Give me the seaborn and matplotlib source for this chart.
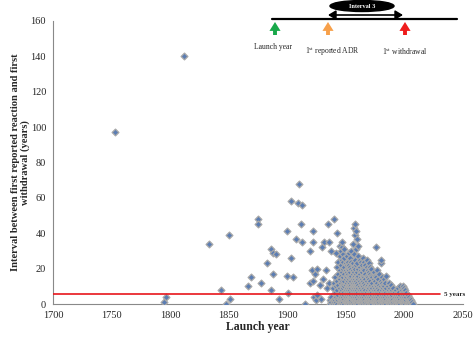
import numpy as np
import pandas as pd
import matplotlib
matplotlib.use("Agg")
import matplotlib.pyplot as plt
from matplotlib.patches import Ellipse, FancyArrowPatch
import seaborn as sns

# ---- data ----
early_years = [1753, 1795, 1797, 1812, 1833, 1844, 1848, 1850, 1851, 1867, 1869, 1875, 1875,
               1878, 1883, 1886, 1886, 1888, 1888, 1891, 1893, 1900, 1900, 1901, 1903, 1903,
               1905, 1908, 1909, 1910, 1912, 1913, 1913, 1915, 1920, 1920, 1921, 1922, 1922,
               1922, 1923, 1924, 1925, 1926, 1926, 1928, 1929, 1930, 1931, 1932, 1933, 1934,
               1935, 1936, 1936, 1938, 1940]
early_intervals = [97, 1, 4, 140, 34, 8, 0, 39, 3, 10, 15, 48, 45,
                   12, 23, 31, 8, 29, 17, 28, 3, 41, 16, 6, 58, 26,
                   15, 37, 57, 68, 45, 56, 35, 0, 30, 12, 19, 41, 35,
                   13, 4, 17, 2, 20, 5, 11, 3, 32, 14, 35, 19, 9,
                   45, 35, 12, 30, 48]

cluster_years = list(range(1937, 2009))
cluster_intervals = [
    [2, 0], [1, 4], [2, 0, 9], [3, 1, 12], [0, 2, 6, 15], [1, 4, 10, 29],
    [0, 3, 8, 13, 21, 40], [2, 5, 11, 17, 24], [0, 1, 3, 6, 9, 14, 19, 27, 33],
    [1, 2, 4, 7, 12, 16, 22, 30], [0, 2, 5, 8, 10, 13, 18, 25, 32, 35],
    [1, 3, 4, 6, 9, 11, 15, 20, 24, 28], [0, 2, 3, 5, 7, 10, 13, 17, 21, 26, 31],
    [1, 2, 4, 6, 8, 11, 14, 16, 19, 23], [0, 1, 3, 5, 7, 9, 12, 15, 18, 22, 27],
    [1, 2, 4, 6, 8, 10, 13, 17, 20, 24], [0, 2, 3, 5, 7, 9, 11, 14, 16, 19, 22, 29],
    [1, 3, 4, 6, 8, 10, 12, 15, 18, 21, 26], [0, 1, 2, 4, 5, 7, 9, 11, 13, 16, 20, 24, 30],
    [1, 3, 4, 6, 8, 10, 12, 14, 17, 19, 23, 34], [0, 2, 3, 5, 7, 9, 11, 13, 15, 18, 21, 28, 43],
    [1, 2, 4, 6, 8, 10, 12, 14, 16, 20, 25, 39, 45], [0, 1, 3, 5, 7, 9, 11, 13, 17, 22, 31, 41],
    [1, 2, 4, 6, 8, 10, 12, 15, 18, 23, 37], [0, 2, 3, 5, 7, 9, 11, 14, 16, 20, 27, 33],
    [1, 2, 4, 6, 8, 10, 13, 17, 21, 25], [0, 1, 3, 5, 7, 9, 12, 15, 19, 24],
    [1, 2, 4, 6, 8, 11, 14, 18, 22], [0, 2, 3, 5, 7, 10, 13, 16, 20, 26],
    [1, 2, 4, 6, 9, 12, 15, 19, 24], [0, 1, 3, 5, 8, 11, 14, 17, 22],
    [1, 2, 4, 6, 7, 10, 13, 16, 21, 25], [0, 2, 3, 5, 8, 11, 15, 19],
    [1, 2, 4, 6, 9, 12, 14, 18, 23], [0, 1, 3, 5, 7, 10, 13, 17, 21],
    [1, 2, 4, 6, 8, 11, 16, 20], [0, 2, 3, 5, 7, 9, 12, 15],
    [1, 2, 4, 6, 8, 10, 14, 18], [0, 1, 3, 5, 7, 9, 13, 16],
    [1, 2, 4, 6, 8, 11, 15, 32], [0, 2, 3, 5, 7, 10, 12, 19],
    [1, 2, 4, 6, 9, 14], [0, 1, 3, 5, 8, 11, 17],
    [1, 2, 4, 6, 7, 10, 13, 23, 25], [0, 2, 3, 5, 8, 12, 15],
    [1, 2, 4, 6, 9, 11], [0, 1, 3, 5, 7, 10, 14],
    [1, 2, 4, 6, 8, 12], [0, 2, 3, 5, 7, 9, 16],
    [1, 2, 4, 6, 10], [0, 1, 3, 5, 8, 12],
    [1, 2, 4, 7, 9], [0, 2, 3, 5, 6, 11],
    [1, 2, 4, 5, 8], [0, 1, 3, 6, 9],
    [1, 2, 4, 7], [0, 2, 3, 5, 8],
    [1, 2, 4, 6], [0, 1, 3, 5, 9],
    [1, 2, 4, 7], [0, 2, 3, 5, 10],
    [1, 2, 4, 6, 8], [0, 1, 3, 5, 7, 10],
    [1, 2, 4, 6, 9], [0, 2, 3, 5, 8],
    [1, 2, 4, 6], [0, 1, 3, 5],
    [1, 2, 4], [0, 2, 3],
    [1, 2], [0, 1], [0],
]

threshold_value = 5.5
threshold_label = "5 years"
x_ticks = [1700, 1750, 1800, 1850, 1900, 1950, 2000, 2050]
y_ticks = [0, 20, 40, 60, 80, 100, 120, 140, 160]

rows_x = list(early_years)
rows_y = list(early_intervals)
for yr, vals in zip(cluster_years, cluster_intervals):
    for v in vals:
        rows_x.append(yr)
        rows_y.append(v)
df = pd.DataFrame({"launch": rows_x, "interval": rows_y})

# ---- style ----
sns.set_style("white")
plt.rcParams["font.family"] = ["Liberation Serif", "DejaVu Serif"]
plt.rcParams["mathtext.fontset"] = "custom"
plt.rcParams["mathtext.rm"] = "Liberation Serif"
plt.rcParams["mathtext.it"] = "Liberation Serif:italic"
plt.rcParams["mathtext.bf"] = "Liberation Serif:bold"

W, H = 473, 338
fig = plt.figure(figsize=(W / 100, H / 100), dpi=100)
ax = fig.add_axes([53 / W, 1 - 304 / H, (462.5 - 53) / W, (304 - 21) / H])

sns.scatterplot(data=df, x="launch", y="interval", ax=ax, marker="D", s=12,
                color="#5B7DB3", edgecolor="#A8A8A8", linewidth=0.9, zorder=3)

ax.plot([1700, 2031], [threshold_value, threshold_value], color="#E8151B", lw=1.2, zorder=4)
ax.text(2034, threshold_value, threshold_label, fontsize=5, fontweight="bold",
        va="center", ha="left")

ax.set_xlim(1700, 2050)
ax.set_ylim(0, 160)
ax.set_xticks(x_ticks)
ax.set_yticks(y_ticks)
ax.tick_params(axis="both", labelsize=7.5, length=3, width=0.8, color="#898989",
               direction="out", pad=2)
for s in ["top", "right"]:
    ax.spines[s].set_visible(False)
for s in ["left", "bottom"]:
    ax.spines[s].set_color("#898989")
    ax.spines[s].set_linewidth(0.8)

ax.set_xlabel("Launch year", fontsize=8.5, fontweight="bold")
ax.set_ylabel("Interval between first reported reaction and first\nwithdrawal (years)",
              fontsize=7.6, fontweight="bold", linespacing=0.98)
ax.xaxis.set_label_coords(0.5, -0.06)
ax.yaxis.set_label_coords(-0.057, 0.5)

# ---- top schematic (figure pixel coordinates) ----
def fy(py):
    return H - py

fig.add_artist(plt.Line2D([272 / W, 457 / W], [fy(19) / H, fy(19) / H], color="black", lw=1.6))
fig.add_artist(Ellipse((362 / W, fy(6) / H), 64 / W, 11 / H, transform=fig.transFigure,
                       facecolor="black", edgecolor="black"))
fig.text(362 / W, fy(6) / H, "Interval 3", color="white", fontsize=4.5, fontweight="bold",
         ha="center", va="center")
fig.add_artist(FancyArrowPatch((328 / W, fy(15) / H), (403 / W, fy(15) / H),
                               transform=fig.transFigure, arrowstyle="<|-|>,head_length=3,head_width=1.8",
                               color="black", lw=1.2, mutation_scale=1.5, shrinkA=0, shrinkB=0))
for xp, col in [(275, "#18A84A"), (328, "#F7A04A"), (405, "#EE1C1C")]:
    fig.add_artist(FancyArrowPatch((xp / W, fy(35) / H), (xp / W, fy(22) / H),
                                   transform=fig.transFigure,
                                   arrowstyle="simple,head_width=1.0,head_length=0.8,tail_width=0.35",
                                   mutation_scale=8, color=col, lw=0, shrinkA=0, shrinkB=0))
fig.text(273 / W, fy(47) / H, "Launch year", fontsize=5.5, ha="center", va="center")
fig.text(332 / W, fy(52) / H, r"1$^{\mathrm{st}}$ reported ADR", fontsize=5.5, ha="center", va="center")
fig.text(405 / W, fy(52) / H, r"1$^{\mathrm{st}}$ withdrawal", fontsize=5.5, ha="center", va="center")

fig.savefig("out.png", dpi=100)
